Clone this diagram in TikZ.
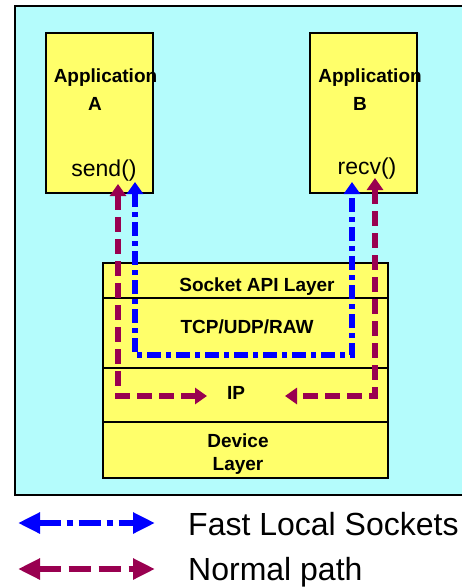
\documentclass[tikz,border=0pt]{standalone}
\usepackage{fontspec}
\setmainfont{Liberation Sans}
\usetikzlibrary{arrows.meta}
\begin{document}
\begin{tikzpicture}[x=1pt,y=-1pt,
  appbox/.style={draw,line width=1.8pt,fill=boxyellow,minimum width=107pt,minimum height=160pt,inner sep=0pt},
  layerbox/.style={draw,line width=1.5pt,fill=boxyellow,minimum width=285pt,inner sep=0pt},
  boldtxt/.style={font=\fontsize{19}{21}\selectfont\bfseries,anchor=base,inner sep=0pt},
  calltxt/.style={font=\fontsize{23}{25}\selectfont,anchor=base,inner sep=0pt},
  legtxt/.style={font=\fontsize{32}{34}\selectfont,anchor=base west,inner sep=0pt},
  fastpath/.style={draw=fastblue,line width=6pt,dash pattern=on 14pt off 5pt on 5pt off 5pt,
    {Triangle[width=16pt,length=12pt]}-{Triangle[width=16pt,length=12pt]}},
  normpath/.style={draw=normred,line width=6pt,dash pattern=on 15pt off 7pt,
    {Triangle[width=16pt,length=12pt]}-{Triangle[width=16pt,length=12pt]}}]
  \definecolor{sky}{HTML}{B4FCFC}
  \definecolor{boxyellow}{HTML}{FFFF6A}
  \definecolor{fastblue}{HTML}{0000FF}
  \definecolor{normred}{HTML}{990050}
  \useasboundingbox (0,0) rectangle (461,588);
  \draw [line width=2.5pt,fill=sky] (15,6) rectangle (475,495);
  \node [appbox] (appA) at (99.5,113) {};
  \node [appbox] (appB) at (363.5,113) {};
  \node [boldtxt] at (105.5,83) {Application};
  \node [boldtxt] at (95,111) {A};
  \node [calltxt] at (104,176) {send()};
  \node [boldtxt] at (370,83) {Application};
  \node [boldtxt] at (360,111) {B};
  \node [calltxt] at (367,175) {recv()};
  \node [layerbox,minimum height=35pt] (sock) at (245.5,280.5) {};
  \node [layerbox,minimum height=70pt] (tcp) at (245.5,333) {};
  \node [layerbox,minimum height=54pt] (ip) at (245.5,395) {};
  \node [layerbox,minimum height=56pt] (dev) at (245.5,450) {};
  \node [boldtxt] at (257,291) {Socket API Layer};
  \node [boldtxt] at (247,333) {TCP/UDP/RAW};
  \node [boldtxt] at (236,399) {IP};
  \node [boldtxt] at (238,447) {Device};
  \node [boldtxt] at (238,470) {Layer};
  \coordinate (fa) at (135,182);
  \coordinate (fb) at (352,182);
  \coordinate (na) at (118,184);
  \coordinate (nb) at (375,178);
  \coordinate (ipl) at (207,396);
  \coordinate (ipr) at (285,396);
  \draw [fastpath] (fa) -- (fa |- 0,355) -- (fb |- 0,355) -- (fb);
  \draw [normpath] (na) -- (na |- ipl) -- (ipl);
  \draw [normpath] (nb) -- (nb |- ipr) -- (ipr);
  \coordinate (fl) at (18,523);
  \coordinate (fr) at (155,523);
  \coordinate (nl) at (18,569);
  \coordinate (nr) at (155,569);
  \draw [fastpath,line width=6pt,dash pattern=on 22pt off 6pt on 6pt off 6pt,
    {Triangle[width=20pt,length=22pt]}-{Triangle[width=20pt,length=22pt]}] (fl) -- (fr);
  \draw [normpath,line width=6pt,dash pattern=on 22pt off 8pt,
    {Triangle[width=20pt,length=22pt]}-{Triangle[width=20pt,length=22pt]}] (nl) -- (nr);
  \node [legtxt] at (188,535) {Fast Local Sockets};
  \node [legtxt] at (188,580) {Normal path};
\end{tikzpicture}
\end{document}
